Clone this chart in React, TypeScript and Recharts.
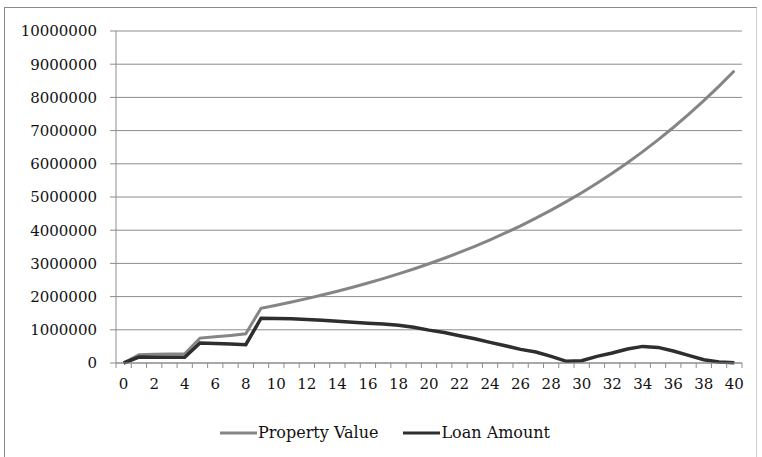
import { CartesianGrid, Legend, Line, LineChart, XAxis, YAxis } from 'recharts';

const years = [
  0, 1, 2, 3, 4, 5, 6, 7, 8, 9, 10, 11, 12, 13, 14, 15, 16, 17, 18, 19, 20,
  21, 22, 23, 24, 25, 26, 27, 28, 29, 30, 31, 32, 33, 34, 35, 36, 37, 38, 39, 40,
];

const propertyValue = [
  0, 250000, 260000, 270000, 280000, 750000, 790000, 830000, 880000, 1650000,
  1742000, 1838000, 1940000, 2048000, 2162000, 2282000, 2408000, 2542000,
  2683000, 2832000, 2989000, 3155000, 3330000, 3515000, 3710000, 3916000,
  4133000, 4363000, 4605000, 4860000, 5130000, 5415000, 5715000, 6032000,
  6367000, 6721000, 7094000, 7487000, 7903000, 8341000, 8804000,
];

const loanAmount = [
  0, 180000, 175000, 172000, 170000, 600000, 590000, 570000, 550000, 1350000,
  1340000, 1330000, 1310000, 1285000, 1260000, 1230000, 1200000, 1175000,
  1140000, 1075000, 990000, 920000, 820000, 730000, 620000, 520000, 410000,
  330000, 200000, 50000, 70000, 200000, 300000, 420000, 500000, 470000,
  360000, 230000, 100000, 30000, 5000,
];

const yTicks = [
  0, 1000000, 2000000, 3000000, 4000000, 5000000, 6000000, 7000000, 8000000,
  9000000, 10000000,
];

const data = years.map((year, i) => ({
  year,
  property: propertyValue[i],
  loan: loanAmount[i],
}));

const FONT = '"DejaVu Serif", serif';
const AXIS = '#8c8c8c';
const PROPERTY = '#858585';
const LOAN = '#2e2e2e';

// category ticks: marks sit on the band edges, labels on every other year
function YearTick(props: any) {
  const { x, y, payload, index } = props;
  const half = payload?.offset ?? 7.6;
  const last = index === years.length - 1;
  return (
    <g>
      <line x1={x - half} x2={x - half} y1={y} y2={y + 5} stroke={AXIS} />
      {last && <line x1={x + half} x2={x + half} y1={y} y2={y + 5} stroke={AXIS} />}
      {index % 2 === 0 && (
        <text x={x} y={y + 26} textAnchor="middle" fill="#111" fontFamily={FONT} fontSize={15}>
          {payload.value}
        </text>
      )}
    </g>
  );
}

function LegendLines() {
  const items = [
    { label: 'Property Value', color: PROPERTY },
    { label: 'Loan Amount', color: LOAN },
  ];
  return (
    <div
      style={{
        display: 'flex',
        justifyContent: 'center',
        gap: 25,
        paddingLeft: 22,
        fontFamily: FONT,
        fontSize: 16,
      }}
    >
      {items.map((it) => (
        <div key={it.label} style={{ display: 'flex', alignItems: 'center', color: '#111' }}>
          <svg width={37} height={10} style={{ marginRight: 1 }}>
            <line x1={0} x2={37} y1={5} y2={5} stroke={it.color} strokeWidth={3} />
          </svg>
          <span>{it.label}</span>
        </div>
      ))}
    </div>
  );
}

export default function App() {
  return (
    <div
      style={{
        position: 'absolute',
        left: 4,
        top: 7,
        width: 753,
        height: 460,
        boxSizing: 'border-box',
        borderLeft: '1px solid #8a8a8a',
        borderTop: '1px solid #8a8a8a',
        borderRight: '1px solid #cfcfcf',
        background: '#fff',
      }}
    >
      <LineChart
        width={751}
        height={442}
        data={data}
        margin={{ top: 23, right: 14, left: 1, bottom: 2 }}
      >
        <CartesianGrid vertical={false} stroke={AXIS} strokeWidth={1} />
        <XAxis
          dataKey="year"
          scale="band"
          interval={0}
          height={60}
          tickSize={0}
          tickMargin={0}
          tickLine={false}
          axisLine={{ stroke: AXIS }}
          tick={<YearTick />}
        />
        <YAxis
          width={110}
          domain={[0, 10000000]}
          ticks={yTicks}
          interval={0}
          tickSize={6}
          tickMargin={13}
          axisLine={{ stroke: AXIS }}
          tickLine={{ stroke: AXIS }}
          tick={{ fill: '#111', fontFamily: FONT, fontSize: 15 }}
        />
        <Legend verticalAlign="bottom" height={25} content={<LegendLines />} />
        <Line
          type="linear"
          dataKey="property"
          name="Property Value"
          stroke={PROPERTY}
          strokeWidth={3}
          dot={false}
          isAnimationActive={false}
        />
        <Line
          type="linear"
          dataKey="loan"
          name="Loan Amount"
          stroke={LOAN}
          strokeWidth={3.5}
          dot={false}
          isAnimationActive={false}
        />
      </LineChart>
    </div>
  );
}
